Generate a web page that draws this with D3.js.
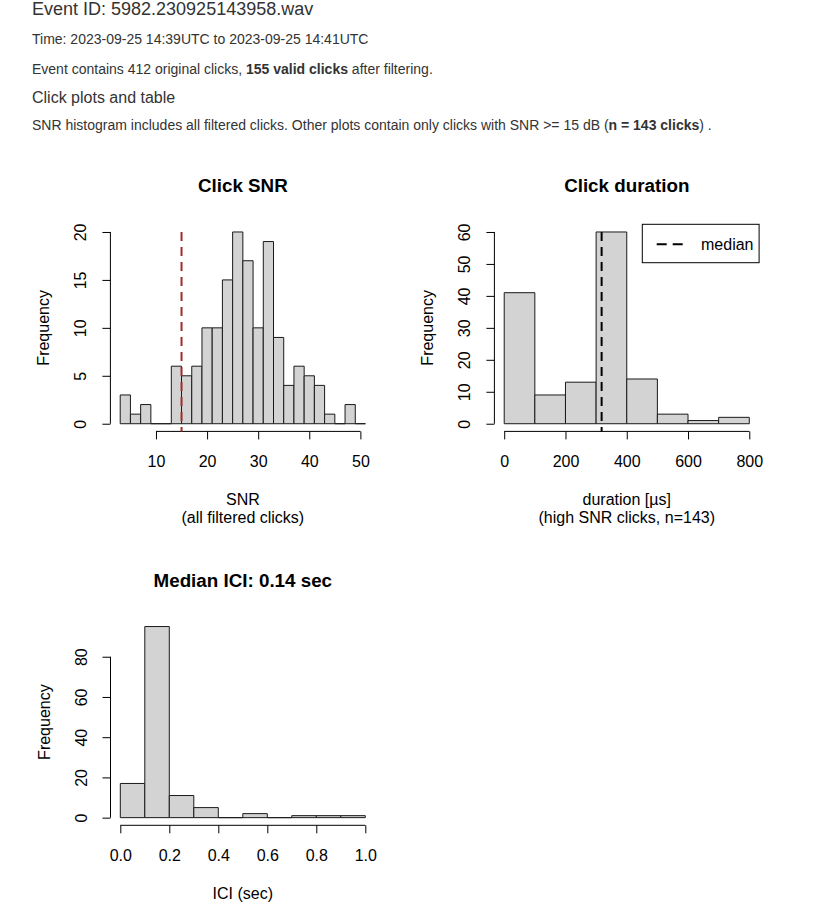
<!DOCTYPE html>
<html>
<head>
<meta charset="utf-8">
<script src="https://cdn.jsdelivr.net/npm/d3@7.9.0/dist/d3.min.js"></script>
<style>
  body { margin: 0; background: #fff; }
  svg text { font-family: "Liberation Sans", Arial, Helvetica, sans-serif; }
</style>
</head>
<body>
<svg id="page" width="814" height="911"></svg>
<script>
// ---- data ----
const snrBreaks = [3, 5, 7, 9, 11, 13, 15, 17, 19, 21, 23, 25, 27, 29, 31, 33, 35, 37, 39, 41, 43, 45, 47, 49, 51];
const snrCounts = [3, 1, 2, 0, 0, 6, 5, 6, 10, 10, 15, 20, 17, 10, 19, 9, 4, 6, 5, 4, 1, 0, 2, 0];
const snrXTicks = [10, 20, 30, 40, 50];
const snrYTicks = [0, 5, 10, 15, 20];
const snrThreshold = 15;

const durBreaks = [0, 100, 200, 300, 400, 500, 600, 700, 800];
const durCounts = [41, 9, 13, 60, 14, 3, 1, 2];
const durXTicks = [0, 200, 400, 600, 800];
const durYTicks = [0, 10, 20, 30, 40, 50, 60];
const durMedian = 318;

const iciBreaks = [0, 0.1, 0.2, 0.3, 0.4, 0.5, 0.6, 0.7, 0.8, 0.9, 1.0];
const iciCounts = [17, 95, 11, 5, 0, 2, 0, 1, 1, 1];
const iciXTicks = [0, 0.2, 0.4, 0.6, 0.8, 1.0];
const iciYTicks = [0, 20, 40, 60, 80];

const svg = d3.select("#page");

// ---- header text ----
const header = svg.append("g").attr("fill", "#333");
header.append("text").attr("x", 32).attr("y", 14.5).style("font-size", "18px")
  .text("Event ID: 5982.230925143958.wav");
header.append("text").attr("x", 32).attr("y", 44).style("font-size", "14px")
  .text("Time: 2023-09-25 14:39UTC to 2023-09-25 14:41UTC");
const t3 = header.append("text").attr("x", 32).attr("y", 74).style("font-size", "14px");
t3.append("tspan").text("Event contains 412 original clicks, ");
t3.append("tspan").attr("font-weight", "bold").text("155 valid clicks");
t3.append("tspan").text(" after filtering.");
header.append("text").attr("x", 32).attr("y", 103).style("font-size", "16px")
  .text("Click plots and table");
const t5 = header.append("text").attr("x", 32).attr("y", 129.5).style("font-size", "14px");
t5.append("tspan").text("SNR histogram includes all filtered clicks. Other plots contain only clicks with SNR >= 15 dB (");
t5.append("tspan").attr("font-weight", "bold").text("n = 143 clicks");
t5.append("tspan").text(") .");

// R-style histogram panel
function histPanel(opt) {
  const { left, top, width, height, breaks, counts, xTicks, yTicks, yMax } = opt;
  const xlo = breaks[0], xhi = breaks[breaks.length - 1];
  const xpad = (xhi - xlo) * 0.04, ypad = yMax * 0.04;
  const x = d3.scaleLinear().domain([xlo - xpad, xhi + xpad]).range([left, left + width]);
  const y = d3.scaleLinear().domain([-ypad, yMax + ypad]).range([top + height, top]);
  const g = svg.append("g");

  const bins = counts.map((c, i) => ({ x0: breaks[i], x1: breaks[i + 1], n: c }));
  g.append("g").selectAll("path").data(bins).join("path")
    .attr("d", d => `M${x(d.x0)},${y(0)}V${y(d.n)}H${x(d.x1)}V${y(0)}Z`)
    .attr("fill", "#d3d3d3")
    .attr("stroke", "#1a1a1a")
    .attr("stroke-width", 1);

  // x axis
  const bottom = top + height;
  const xa = g.append("g").attr("transform", `translate(0,${bottom})`)
    .call(d3.axisBottom(x).tickValues(xTicks).tickSize(8).tickSizeOuter(0)
      .tickFormat(opt.xFormat || d3.format("d")));
  xa.select(".domain").remove();
  xa.append("line").attr("x1", x(xTicks[0])).attr("x2", x(xTicks[xTicks.length - 1]))
    .attr("stroke", "#000");
  xa.selectAll(".tick text").attr("y", 36).attr("dy", null)
    .attr("fill", "#000").style("font-size", "16px");
  xa.selectAll(".tick line").attr("stroke", "#000");

  // y axis
  const ya = g.append("g").attr("transform", `translate(${left},0)`)
    .call(d3.axisLeft(y).tickValues(yTicks).tickSize(8).tickSizeOuter(0));
  ya.select(".domain").remove();
  ya.append("line").attr("y1", y(yTicks[0])).attr("y2", y(yTicks[yTicks.length - 1]))
    .attr("stroke", "#000");
  ya.selectAll(".tick text").attr("x", 0).attr("dy", null)
    .attr("transform", "translate(-24,0) rotate(-90)")
    .attr("text-anchor", "middle").attr("fill", "#000").style("font-size", "16px");
  ya.selectAll(".tick line").attr("stroke", "#000");

  // labels
  const cx = left + width / 2;
  g.append("text").attr("x", cx).attr("y", top - 32).attr("text-anchor", "middle")
    .attr("font-weight", "bold").style("font-size", "18.8px").text(opt.title);
  opt.xlab.forEach((s, i) => {
    g.append("text").attr("x", cx).attr("y", bottom + 74 + i * 17.5)
      .attr("text-anchor", "middle").style("font-size", "16px").text(s);
  });
  g.append("text").attr("transform", `translate(${left - 61},${top + height / 2}) rotate(-90)`)
    .attr("text-anchor", "middle").style("font-size", "16px").text("Frequency");

  return { g, x, y, top, bottom };
}

// Click SNR
const p1 = histPanel({
  left: 110.4, top: 224.3, width: 264.9, height: 207.1,
  breaks: snrBreaks, counts: snrCounts, xTicks: snrXTicks, yTicks: snrYTicks, yMax: 20,
  title: "Click SNR", xlab: ["SNR", "(all filtered clicks)"]
});
p1.g.append("line")
  .attr("x1", p1.x(snrThreshold)).attr("x2", p1.x(snrThreshold))
  .attr("y1", p1.y(20)).attr("y2", p1.bottom)
  .attr("stroke", "brown").attr("stroke-width", 2).attr("stroke-dasharray", "9,6");

// Click duration
const p2 = histPanel({
  left: 494.4, top: 224.3, width: 264.7, height: 207.1,
  breaks: durBreaks, counts: durCounts, xTicks: durXTicks, yTicks: durYTicks, yMax: 60,
  title: "Click duration", xlab: ["duration [\u00b5s]", "(high SNR clicks, n=143)"]
});
p2.g.append("line")
  .attr("x1", p2.x(durMedian)).attr("x2", p2.x(durMedian))
  .attr("y1", p2.y(60)).attr("y2", p2.bottom)
  .attr("stroke", "#000").attr("stroke-width", 2).attr("stroke-dasharray", "9,6");
const leg = p2.g.append("g");
leg.append("rect").attr("x", 642.3).attr("y", 224.3).attr("width", 116.8).attr("height", 38.4)
  .attr("fill", "#fff").attr("stroke", "#000");
leg.append("line").attr("x1", 656.7).attr("x2", 682.7).attr("y1", 244.3).attr("y2", 244.3)
  .attr("stroke", "#000").attr("stroke-width", 2).attr("stroke-dasharray", "10,6");
leg.append("text").attr("x", 701).attr("y", 249.5).style("font-size", "16px").text("median");

// ICI
histPanel({
  left: 110.5, top: 618.9, width: 264.6, height: 206.4,
  breaks: iciBreaks, counts: iciCounts, xTicks: iciXTicks, yTicks: iciYTicks, yMax: 95,
  title: "Median ICI: 0.14 sec", xlab: ["ICI (sec)"], xFormat: d3.format(".1f")
});
</script>
</body>
</html>
